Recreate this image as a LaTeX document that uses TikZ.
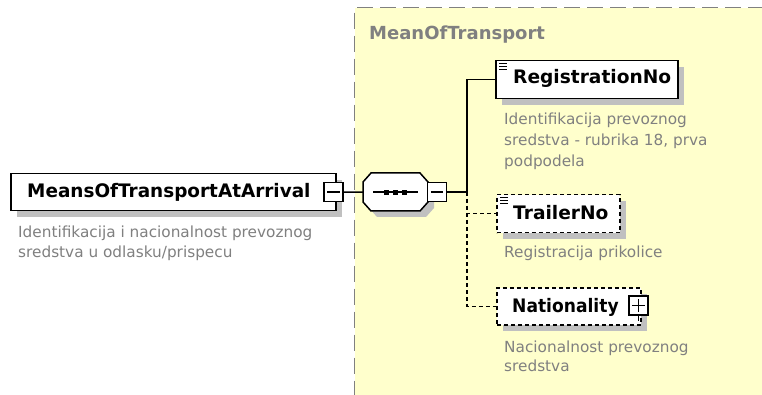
\documentclass[tikz,border=0pt]{standalone}
\usepackage{fontspec}
\setmainfont{DejaVu Sans}
\usetikzlibrary{shadows}
\definecolor{grpfill}{HTML}{FFFFCC}
\definecolor{grpline}{HTML}{808080}
\definecolor{shadowgrey}{HTML}{C0C0C0}
\definecolor{desctext}{HTML}{808080}
\begin{document}
\begin{tikzpicture}[x=1pt,y=-1pt,
  shadowed/.style={general shadow={fill=shadowgrey, shadow xshift=6pt, shadow yshift=-6pt}},
  elbox/.style={draw=black, line width=1.5pt, fill=white, inner sep=0pt, anchor=north west, shadowed},
  optbox/.style={elbox, dash pattern=on 4pt off 3pt},
  pmbox/.style={draw=black, line width=1.4pt, fill=white, inner sep=0pt, minimum size=19pt},
  ellabel/.style={font=\fontsize{18.6}{19}\selectfont\bfseries, anchor=base west, inner sep=0pt},
  grptitle/.style={font=\fontsize{18}{18}\selectfont\bfseries, text=grpline, anchor=base west, inner sep=0pt},
  desc/.style={font=\fontsize{15.3}{18}\selectfont, text=desctext, anchor=base west, inner sep=0pt},
  conn/.style={line width=1.5pt},
  optconn/.style={line width=1.5pt, dash pattern=on 4pt off 3pt},
  icon/.style={line width=0.9pt}
]
\useasboundingbox (0,0) rectangle (762,395);
\fill[white] (0,0) rectangle (762,395);
% group
\node[fill=grpfill, draw=grpline, line width=1.4pt, dash pattern=on 16pt off 7pt,
      inner sep=0pt, anchor=north west, minimum width=430pt, minimum height=400pt] (grp) at (354,7) {};
\node[grptitle] (grpt) at (369,40) {MeanOfTransport};

% main element
\node[elbox, minimum width=325pt, minimum height=37pt] (mainbox) at (10,173) {};
\node[ellabel, xscale=0.99, transform shape] (mainlbl) at (27,198) {MeansOfTransportAtArrival};
\node[pmbox] (mainm) at (333.5,192) {};
\draw[conn] ([xshift=4pt]mainm.west) -- ([xshift=-4pt]mainm.east);
\node[desc] (maind1) at (18,237) {Identifikacija i nacionalnost prevoznog};
\node[desc] (maind2) at (18,257) {sredstva u odlasku/prispecu};

% sequence compositor
\node[inner sep=0pt, minimum width=65pt, minimum height=38pt, anchor=north west] (seq) at (363,173) {};
\fill[shadowgrey] ([shift={(6,6)}]seq.north west) ++(8,0) -- ++(49,0) -- ++(8,9) -- ++(0,20) -- ++(-8,9)
   -- ++(-49,0) -- ++(-8,-9) -- ++(0,-20) -- cycle;
\draw[line width=1.5pt, fill=white] (seq.north west) ++(8,0) -- ++(49,0) -- ++(8,9) -- ++(0,20) -- ++(-8,9)
   -- ++(-49,0) -- ++(-8,-9) -- ++(0,-20) -- cycle;
\draw[conn] ([xshift=10pt]seq.west) -- ([xshift=-10pt]seq.east);
\foreach \dx in {-9,0,9}
  \fill ([xshift=\dx pt]seq.center) ++(-2.5,-2.5) rectangle ++(5,5);
\node[pmbox] (seqm) at (437,192) {};
\draw[conn] ([xshift=4pt]seqm.west) -- ([xshift=-4pt]seqm.east);
\draw[conn] (mainm.east) -- (seq.west);

\coordinate (jn) at (467,192);
\draw[conn] (seqm.east) -- (jn);

% RegistrationNo
\node[elbox, minimum width=182pt, minimum height=38pt] (reg) at (495,60) {};
\draw[icon] (499,63) -- (507,63) (499,66) -- (507,66) (499,69) -- (507,69);
\node[ellabel] (reglbl) at (513,84) {RegistrationNo};
\node[desc] (regd1) at (504,125) {Identifikacija prevoznog};
\node[desc] (regd2) at (504,146) {sredstva - rubrika 18, prva};
\node[desc] (regd3) at (504,167) {podpodela};

% TrailerNo
\node[optbox, minimum width=123pt, minimum height=38pt] (trl) at (496,194) {};
\draw[icon] (500,197) -- (508,197) (500,200) -- (508,200) (500,203) -- (508,203);
\node[ellabel] (trllbl) at (513,219) {TrailerNo};
\node[desc] (trld1) at (504,258) {Registracija prikolice};

% Nationality
\node[optbox, minimum width=144pt, minimum height=37pt] (nat) at (496,287) {};
\node[ellabel, xscale=0.92, transform shape] (natlbl) at (512,312) {Nationality};
\node[pmbox] (natp) at (638.5,305.5) {};
\draw[conn] ([xshift=4pt]natp.west) -- ([xshift=-4pt]natp.east)
            ([yshift=-4pt]natp.north) -- ([yshift=4pt]natp.south);
\draw[conn] (natp.south) -- ++(0,5);
\node[desc] (natd1) at (504,352) {Nacionalnost prevoznog};
\node[desc] (natd2) at (504,371) {sredstva};

% connectors
\draw[conn] (jn) |- (reg.west);
\draw[optconn] (jn) |- (trl.west);
\draw[optconn] (jn) |- (nat.west);
\end{tikzpicture}
\end{document}
